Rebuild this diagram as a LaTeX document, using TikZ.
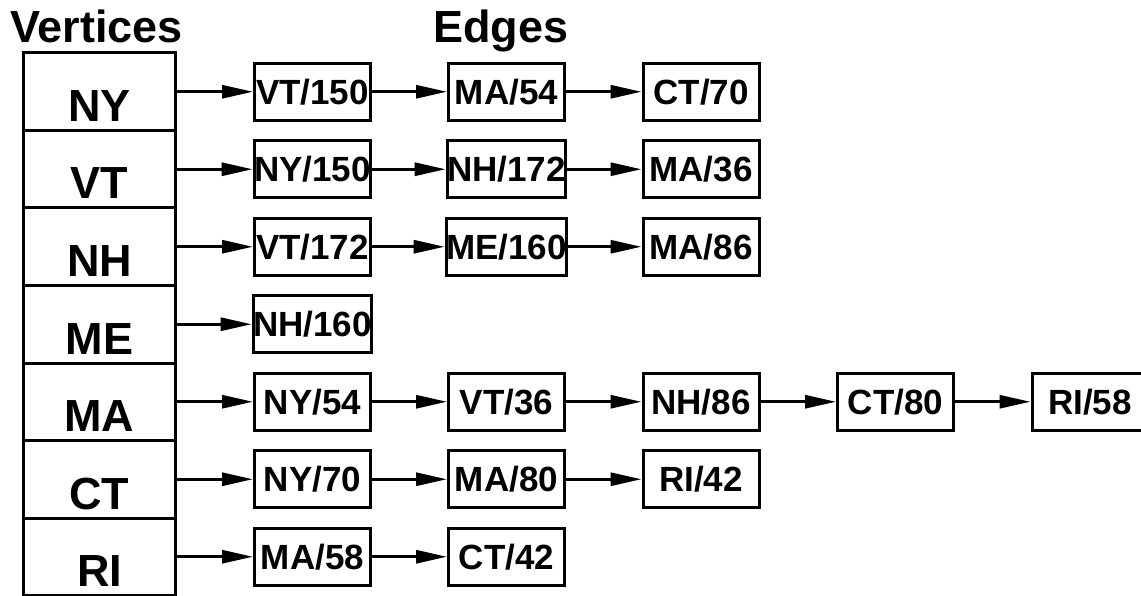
\documentclass[tikz,border=0pt]{standalone}
\usepackage{fontspec}
\setmainfont{Liberation Sans}
\usetikzlibrary{arrows.meta}

\begin{document}
\begin{tikzpicture}[x=1pt, y=-1pt,
  vcell/.style={draw, line width=3pt, minimum width=152pt, minimum height=77.5pt,
    inner sep=0pt, text height=68.5pt, text depth=9pt,
    font=\fontsize{45}{45}\selectfont\bfseries},
  ebox/.style={draw, line width=3pt, minimum width=116pt, minimum height=57pt,
    inner sep=0pt, font=\fontsize{35}{35}\selectfont\bfseries},
  link/.style={line width=3pt, -{Triangle[length=31pt, width=13pt]}},
  heading/.style={anchor=base west, inner sep=0pt,
    font=\fontsize{45}{45}\selectfont\bfseries}]
  \useasboundingbox (0,0) rectangle (1141,596);

  % Headings
  \node[heading] (vtitle) at (10, 43) {Vertices};
  \node[heading] (etitle) at (433, 43) {Edges};

  % Vertex Column
  \node[vcell] (vNY) at (99.5, 91.75) {NY};
  \node[vcell] (vVT) at (99.5, 169.25) {VT};
  \node[vcell] (vNH) at (99.5, 246.75) {NH};
  \node[vcell] (vME) at (99.5, 324.25) {ME};
  \node[vcell] (vMA) at (99.5, 401.75) {MA};
  \node[vcell] (vCT) at (99.5, 479.25) {CT};
  \node[vcell] (vRI) at (99.5, 556.75) {RI};

  % Edge Lists
  \node[ebox] (eNY1) at (312.5, 91.75) {VT/150};
  \node[ebox] (eNY2) at (506.5, 91.75) {MA/54};
  \node[ebox] (eNY3) at (701, 91.75) {CT/70};

  \node[ebox] (eVT1) at (312.5, 169.25) {NY/150};
  \node[ebox] (eVT2) at (506.5, 169.25) {NH/172};
  \node[ebox] (eVT3) at (701, 169.25) {MA/36};

  \node[ebox] (eNH1) at (312.5, 246.75) {VT/172};
  \node[ebox] (eNH2) at (506.5, 246.75) {ME/160};
  \node[ebox] (eNH3) at (701, 246.75) {MA/86};

  \node[ebox] (eME1) at (312.5, 324.25) {NH/160};

  \node[ebox] (eMA1) at (312.5, 401.75) {NY/54};
  \node[ebox] (eMA2) at (506.5, 401.75) {VT/36};
  \node[ebox] (eMA3) at (701, 401.75) {NH/86};
  \node[ebox] (eMA4) at (895.5, 401.75) {CT/80};
  \node[ebox] (eMA5) at (1090, 401.75) {RI/58};

  \node[ebox] (eCT1) at (312.5, 479.25) {NY/70};
  \node[ebox] (eCT2) at (506.5, 479.25) {MA/80};
  \node[ebox] (eCT3) at (701, 479.25) {RI/42};

  \node[ebox] (eRI1) at (312.5, 556.75) {MA/58};
  \node[ebox] (eRI2) at (506.5, 556.75) {CT/42};

  % Links
  \draw[link] (vNY) -- (eNY1);
  \draw[link] (eNY1) -- (eNY2);
  \draw[link] (eNY2) -- (eNY3);

  \draw[link] (vVT) -- (eVT1);
  \draw[link] (eVT1) -- (eVT2);
  \draw[link] (eVT2) -- (eVT3);

  \draw[link] (vNH) -- (eNH1);
  \draw[link] (eNH1) -- (eNH2);
  \draw[link] (eNH2) -- (eNH3);

  \draw[link] (vME) -- (eME1);

  \draw[link] (vMA) -- (eMA1);
  \draw[link] (eMA1) -- (eMA2);
  \draw[link] (eMA2) -- (eMA3);
  \draw[link] (eMA3) -- (eMA4);
  \draw[link] (eMA4) -- (eMA5);

  \draw[link] (vCT) -- (eCT1);
  \draw[link] (eCT1) -- (eCT2);
  \draw[link] (eCT2) -- (eCT3);

  \draw[link] (vRI) -- (eRI1);
  \draw[link] (eRI1) -- (eRI2);

\end{tikzpicture}
\end{document}
